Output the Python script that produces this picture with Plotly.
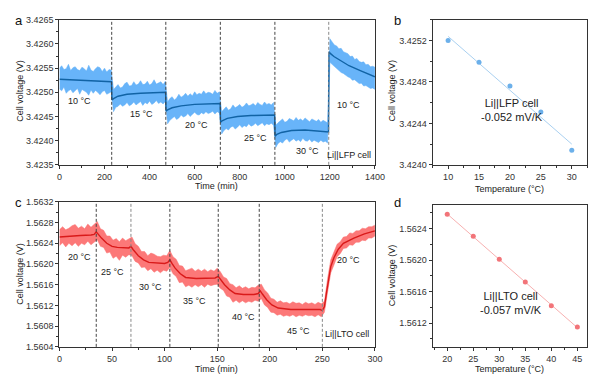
import numpy as np
import plotly.graph_objects as go

# ---------------- data ----------------
# Panel a: Li||LFP cell, voltage in units of 1e-5 V above 3.4230 V
A_BASE = 3.4230
a_band_t = list(range(0, 1401, 10))
a_band_hi = [250, 255, 247, 249, 258, 245, 251, 253, 247, 245, 252, 249, 244, 256, 246, 243, 249, 253, 251, 243, 250, 242, 247, 246,
             206, 212, 216, 209, 211, 218, 221, 213, 214, 222, 215, 217, 224, 216, 217, 223, 215, 218, 226, 217, 219, 222, 216, 223,
             180, 187, 191, 184, 188, 196, 190, 193, 198, 192, 197, 193, 201, 195, 198, 196, 203, 197, 200, 199, 196, 204, 198, 201,
             160, 165, 170, 163, 166, 174, 168, 171, 175, 169, 172, 178, 172, 174, 177, 172, 179, 175, 173, 180, 175, 177, 174, 179,
             132, 137, 141, 145, 138, 140, 146, 143, 141, 148, 142, 145, 141, 147, 143, 139, 145, 142, 140, 144, 138, 142, 140, 137,
             311, 305, 298, 296, 290, 291, 284, 282, 280, 274, 275, 268, 270, 264, 262, 263, 257, 258, 253, 254, 252]
a_band_lo = [207, 203, 211, 198, 203, 206, 199, 203, 208, 196, 206, 203, 200, 194, 205, 198, 204, 200, 195, 201, 204, 196, 199, 201,
             160, 169, 171, 176, 171, 174, 179, 172, 175, 180, 174, 177, 181, 173, 179, 176, 182, 175, 178, 183, 177, 180, 176, 181,
             135, 142, 146, 150, 144, 147, 153, 149, 151, 156, 150, 155, 159, 154, 153, 158, 155, 160, 156, 158, 161, 155, 160, 157,
             114, 121, 125, 122, 128, 130, 124, 128, 133, 127, 131, 129, 135, 130, 132, 136, 131, 134, 137, 131, 135, 133, 136, 132,
             86, 94, 98, 95, 101, 104, 97, 101, 104, 99, 102, 98, 105, 100, 99, 103, 97, 101, 99, 96, 101, 97, 99, 95,
             262, 258, 253, 248, 246, 241, 239, 235, 232, 230, 225, 226, 221, 218, 219, 213, 214, 210, 208, 209, 206]
a_mean_t = [0, 60, 120, 180, 231, 233, 240, 260, 300, 360, 420, 471, 473, 480, 500, 540, 600, 660, 713, 715, 722, 745,
            790, 850, 910, 955, 957, 965, 985, 1030, 1090, 1150, 1194, 1196, 1203, 1218, 1245, 1285, 1335, 1400]
a_mean_v = [227, 226, 225, 223, 222, 184, 187, 192, 196, 198, 199, 200, 161, 164, 168, 172, 175, 176, 177, 138, 141, 146,
            150, 152, 153, 153, 109, 113, 117, 121, 122, 120, 118, 284, 280, 274, 266, 255, 245, 232]
a_switch_t = [232, 472, 714, 956, 1195]
a_labels = ["10 °C", "15 °C", "20 °C", "25 °C", "30 °C", "10 °C"]

# Panel b: temperature vs voltage (Li||LFP)
b_temp = [10, 15, 20, 25, 30]
b_volt = [3.42520, 3.42499, 3.42476, 3.42451, 3.42414]

# Panel c: Li||LTO cell, voltage in units of 1e-5 V above 1.5600 V
C_BASE = 1.5600
c_band_t = list(range(0, 301, 3))
c_band_hi = [266, 272, 266, 269, 274, 276, 269, 273, 268, 277, 271, 276, 282, 268, 265, 254, 254, 246, 249, 243,
             250, 245, 249, 252, 239, 234, 224, 224, 216, 221, 219, 215, 214, 217, 216, 226, 214, 209, 197, 196,
             187, 190, 192, 186, 190, 186, 190, 185, 189, 186, 192, 185, 175, 172, 162, 160, 154, 158, 153, 156,
             152, 155, 154, 159, 161, 150, 144, 134, 132, 126, 129, 125, 126, 123, 127, 124, 125, 122, 126, 123,
             125, 122, 126, 123, 128, 172, 208, 223, 238, 243, 252, 253, 260, 259, 264, 264, 269, 268, 272, 272, 275]
c_band_lo = [235, 241, 233, 240, 235, 241, 234, 240, 237, 244, 237, 243, 247, 234, 232, 221, 223, 211, 215, 207,
             217, 213, 218, 216, 205, 202, 193, 194, 187, 191, 184, 188, 183, 188, 186, 193, 181, 176, 164, 165,
             156, 159, 155, 160, 156, 160, 155, 161, 158, 160, 161, 153, 149, 138, 136, 126, 130, 125, 129, 125,
             128, 126, 130, 128, 133, 121, 116, 107, 106, 101, 103, 99, 101, 99, 102, 98, 101, 99, 102, 100,
             101, 98, 102, 98, 107, 146, 183, 198, 214, 220, 230, 231, 237, 236, 242, 242, 246, 245, 250, 250, 254]
c_mean_t = [0, 10, 20, 30, 33, 35, 37, 40, 45, 50, 55, 60, 66, 68, 70, 75, 80, 85, 90, 95, 100, 103, 105, 107, 110,
            115, 120, 130, 140, 148, 151, 153, 157, 162, 167, 175, 185, 189, 191, 193, 197, 202, 208, 220, 235, 248,
            250, 252, 254, 256, 258, 261, 265, 270, 280, 290, 300]
c_mean_v = [252, 254, 255, 256, 257, 262, 257, 250, 240, 234, 232, 231, 231, 234, 228, 216, 208, 203, 202, 202, 201, 203, 208, 201, 192,
            181, 174, 172, 173, 173, 176, 170, 160, 150, 143, 141, 141, 143, 148, 142, 131, 121, 115, 112, 112, 112,
            110, 118, 145, 175, 195, 212, 228, 240, 250, 258, 264]
c_switch_t = [35, 68, 105, 151, 190, 250]
c_labels = ["20 °C", "25 °C", "30 °C", "35 °C", "40 °C", "45 °C", "20 °C"]

# Panel d: temperature vs voltage (Li||LTO)
d_temp = [20, 25, 30, 35, 40, 45]
d_volt = [1.56258, 1.56230, 1.56201, 1.56172, 1.56142, 1.56115]

# ---------------- figure ----------------
FONT = "Liberation Sans, Arial, sans-serif"
fig = go.Figure()

def v(base, arr):
    return [base + x * 1e-5 for x in arr]

# panel a
fig.add_trace(go.Scatter(x=a_band_t, y=v(A_BASE, a_band_hi), mode="lines", line=dict(width=0.5, color="#63b1f8"),
                         xaxis="x", yaxis="y", showlegend=False, hoverinfo="skip"))
fig.add_trace(go.Scatter(x=a_band_t, y=v(A_BASE, a_band_lo), mode="lines", line=dict(width=0.5, color="#63b1f8"),
                         fill="tonexty", fillcolor="#68b4f9", xaxis="x", yaxis="y", showlegend=False, hoverinfo="skip"))
fig.add_trace(go.Scatter(x=a_mean_t, y=v(A_BASE, a_mean_v), mode="lines", line=dict(width=1.4, color="#1163a5"),
                         xaxis="x", yaxis="y", showlegend=False))

# panel b
b_fit = np.polyfit(b_temp, b_volt, 1)
b_line_x = [b_temp[0], b_temp[-1]]
fig.add_trace(go.Scatter(x=b_line_x, y=list(np.polyval(b_fit, b_line_x)), mode="lines",
                         line=dict(width=1, color="#a9d0f0"), xaxis="x2", yaxis="y2", showlegend=False))
fig.add_trace(go.Scatter(x=b_temp, y=b_volt, mode="markers", marker=dict(size=5, color="#6cb0ea"),
                         xaxis="x2", yaxis="y2", showlegend=False))

# panel c
fig.add_trace(go.Scatter(x=c_band_t, y=v(C_BASE, c_band_hi), mode="lines", line=dict(width=0.5, color="#fb7373"),
                         xaxis="x3", yaxis="y3", showlegend=False, hoverinfo="skip"))
fig.add_trace(go.Scatter(x=c_band_t, y=v(C_BASE, c_band_lo), mode="lines", line=dict(width=0.5, color="#fb7373"),
                         fill="tonexty", fillcolor="#fc7878", xaxis="x3", yaxis="y3", showlegend=False, hoverinfo="skip"))
fig.add_trace(go.Scatter(x=c_mean_t, y=v(C_BASE, c_mean_v), mode="lines", line=dict(width=1.4, color="#d91a1a"),
                         xaxis="x3", yaxis="y3", showlegend=False))

# panel d
d_fit = np.polyfit(d_temp, d_volt, 1)
d_line_x = [d_temp[0], d_temp[-1]]
fig.add_trace(go.Scatter(x=d_line_x, y=list(np.polyval(d_fit, d_line_x)), mode="lines",
                         line=dict(width=1, color="#f7b0b0"), xaxis="x4", yaxis="y4", showlegend=False))
fig.add_trace(go.Scatter(x=d_temp, y=d_volt, mode="markers", marker=dict(size=5, color="#f27479"),
                         xaxis="x4", yaxis="y4", showlegend=False))

W, H = 600, 375
def dx(p0, p1):
    return [p0 / W, p1 / W]
def dy(top, bottom):
    return [1 - bottom / H, 1 - top / H]

axis_common = dict(showline=True, linecolor="#333333", linewidth=1, mirror=True, ticks="outside",
                   ticklen=3, tickwidth=1, tickcolor="#333333", showgrid=False, zeroline=False,
                   tickfont=dict(family=FONT, size=9, color="#333333"))

def minor(d):
    return dict(dtick=d, ticklen=2, ticks="outside", tickcolor="#333333")

fig.update_layout(
    width=W, height=H, margin=dict(l=0, r=0, t=0, b=0),
    plot_bgcolor="white", paper_bgcolor="white",
    font=dict(family=FONT, size=9, color="#222222"),
    xaxis=dict(domain=dx(49.5, 372), range=[0, 1400], tickvals=list(range(0, 1401, 200)),
               minor=minor(100), anchor="y", **axis_common),
    yaxis=dict(domain=dy(7, 156), range=[3.4235, 3.4265], tickvals=[3.4235, 3.4240, 3.4245, 3.4250, 3.4255, 3.4260, 3.4265],
               tickformat=".4f", minor=minor(0.00025), anchor="x", **axis_common),
    xaxis2=dict(domain=dx(431, 589), range=[7.5, 32.5], tickvals=b_temp,
                minor=minor(2.5), anchor="y2", **axis_common),
    yaxis2=dict(domain=dy(7, 156), range=[3.4240, 3.4254], tickvals=[3.4240, 3.4244, 3.4248, 3.4252],
                tickformat=".4f", minor=minor(0.0002), anchor="x2", **axis_common),
    xaxis3=dict(domain=dx(49.5, 372), range=[0, 300], tickvals=list(range(0, 301, 50)),
                minor=minor(25), anchor="y3", **axis_common),
    yaxis3=dict(domain=dy(194, 343), range=[1.5604, 1.5632],
                tickvals=[1.5604, 1.5608, 1.5612, 1.5616, 1.5620, 1.5624, 1.5628, 1.5632],
                tickformat=".4f", minor=minor(0.0002), anchor="x3", **axis_common),
    xaxis4=dict(domain=dx(431, 589), range=[17.2, 46.9], tickvals=d_temp,
                minor=minor(2.5), anchor="y4", **axis_common),
    yaxis4=dict(domain=dy(197, 343), range=[1.5609, 1.5627], tickvals=[1.5612, 1.5616, 1.5620, 1.5624],
                tickformat=".4f", minor=minor(0.0002), anchor="x4", **axis_common),
)

# dashed switch lines
shapes = []
for i, t in enumerate(a_switch_t):
    col = "#888888" if i == 4 else "#444444"
    shapes.append(dict(type="line", xref="x", yref="y domain", x0=t, x1=t, y0=0, y1=1,
                       line=dict(color=col, width=1, dash="3px,2px"), layer="above"))
for i, t in enumerate(c_switch_t):
    col = "#888888" if i in (1, 5) else "#444444"
    shapes.append(dict(type="line", xref="x3", yref="y3 domain", x0=t, x1=t, y0=0, y1=1,
                       line=dict(color=col, width=1, dash="3px,2px"), layer="above"))
fig.update_layout(shapes=shapes)

ann = []
def text(x, y, s, xref="paper", yref="paper", size=9, xanchor="center", yanchor="middle", angle=0, color="#222222"):
    ann.append(dict(x=x, y=y, xref=xref, yref=yref, text=s, showarrow=False, textangle=angle,
                    font=dict(family=FONT, size=size, color=color), xanchor=xanchor, yanchor=yanchor))

# temperature labels in a (data coordinates)
a_lab_pos = [(89, 3.42483), (362, 3.42455), (610, 3.42433), (870, 3.42406), (1100, 3.42378), (1283, 3.42473)]
for (t, vv), s in zip(a_lab_pos, a_labels):
    text(t, vv, s, "x", "y")
text(1392, 3.4237, "Li||LFP cell", "x", "y", xanchor="right")

c_lab_pos = [(19, 1.56213), (50, 1.56185), (87, 1.56155), (128, 1.56128), (175, 1.56098), (227, 1.5607), (275, 1.56207)]
for (t, vv), s in zip(c_lab_pos, c_labels):
    text(t, vv, s, "x3", "y3")
text(296, 1.56065, "Li||LTO cell", "x3", "y3", xanchor="right")

# b & d annotations
text(478 / W, 1 - 100 / H, "Li||LFP cell<br>-0.052 mV/K", size=11, xanchor="left")
text(477 / W, 1 - 298 / H, "Li||LTO cell<br>-0.057 mV/K", size=11, xanchor="left")

# panel letters
text(8 / W, 1 - 8 / H, "a", size=13, color="#111111")
text(395 / W, 1 - 8 / H, "b", size=13, color="#111111")
text(8 / W, 1 - 195 / H, "c", size=13, color="#111111")
text(395 / W, 1 - 195 / H, "d", size=13, color="#111111")

# axis titles
text(9 / W, 1 - 80 / H, "Cell voltage (V)", angle=-90)
text(389 / W, 1 - 80 / H, "Cell voltage (V)", angle=-90)
text(9 / W, 1 - 268 / H, "Cell voltage (V)", angle=-90)
text(389 / W, 1 - 270 / H, "Cell voltage (V)", angle=-90)
text(210 / W, 1 - 178 / H, "Time (min)")
text(210 / W, 1 - 366 / H, "Time (min)")
text(510 / W, 1 - 181 / H, "Temperature (°C)")
text(510 / W, 1 - 366 / H, "Temperature (°C)")

fig.update_layout(annotations=ann)
fig.write_html("out.html")
